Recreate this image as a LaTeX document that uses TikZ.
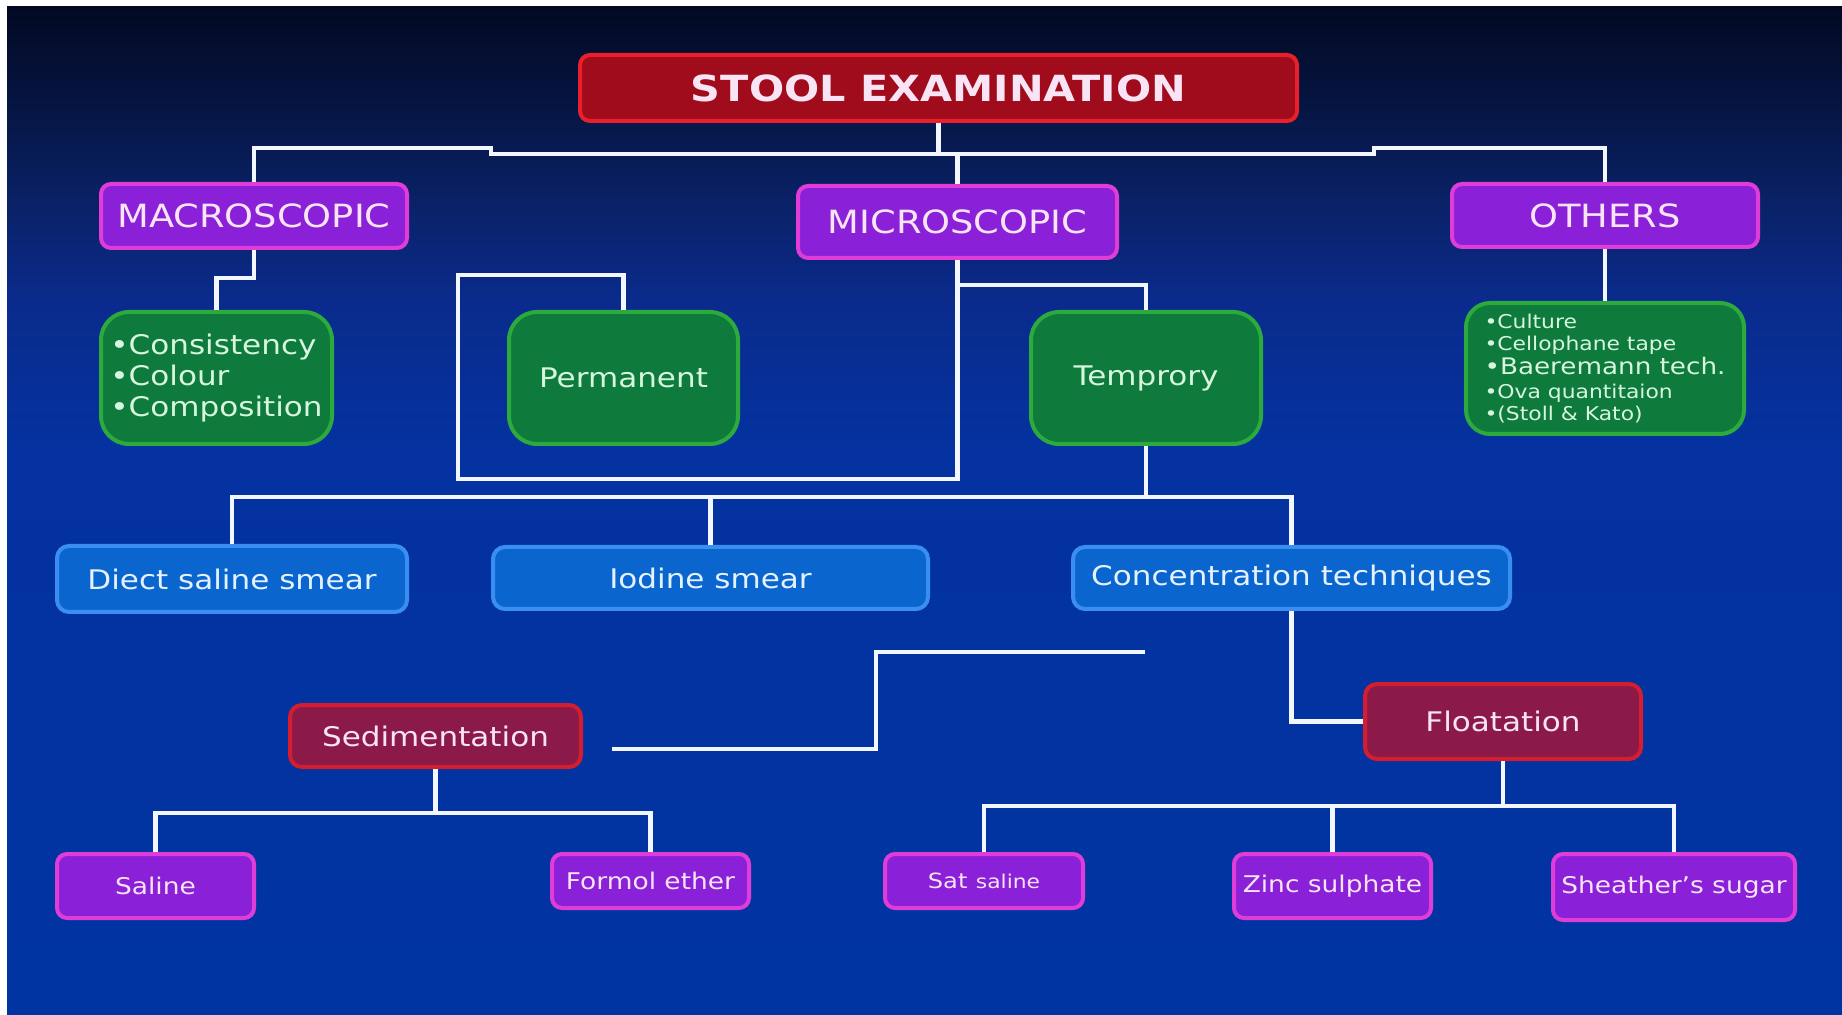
\documentclass[tikz,border=0pt]{standalone}
\usepackage{fontspec}
\setmainfont{DejaVu Sans}[FakeStretch=1.15]
\usepackage{xcolor}
\usetikzlibrary{calc}

\definecolor{bgtop}{HTML}{030923}
\definecolor{bgd}{HTML}{051440}
\definecolor{bga}{HTML}{0A2166}
\definecolor{bgb}{HTML}{0A2B8C}
\definecolor{bgc}{HTML}{0432A0}
\definecolor{bgbot}{HTML}{0034A2}
\definecolor{stoolfill}{HTML}{A00C1C}
\definecolor{stoolline}{HTML}{E8202C}
\definecolor{maroonfill}{HTML}{8C1A48}
\definecolor{maroonline}{HTML}{D41E30}
\definecolor{violetfill}{HTML}{8A20D8}
\definecolor{violetline}{HTML}{E03CD8}
\definecolor{greenfill}{HTML}{0E7A3C}
\definecolor{greenline}{HTML}{2CAA3C}
\definecolor{bluefill}{HTML}{0A66CE}
\definecolor{blueline}{HTML}{3A8EF2}
\definecolor{pinktext}{HTML}{F8E4F4}
\definecolor{minttext}{HTML}{D6F6DE}
\definecolor{skytext}{HTML}{E4F2FF}
\definecolor{linkwhite}{HTML}{F2F6FF}

\pgfdeclareverticalshading{slidebg}{100bp}{color(0bp)=(bgbot); color(25bp)=(bgbot); color(53bp)=(bgc); color(60.5bp)=(bgb); color(65.4bp)=(bga); color(70.4bp)=(bgd); color(75bp)=(bgtop); color(100bp)=(bgtop)}

\tikzset{
  box/.style={draw, line width=2pt, inner sep=0pt, align=center},
  headbox/.style={box, fill=stoolfill, draw=stoolline, rounded corners=5pt, text=pinktext,
    font=\bfseries\fontsize{18}{22}\selectfont},
  topbox/.style={box, fill=violetfill, draw=violetline, rounded corners=5pt, text=pinktext,
    font=\fontsize{16}{19}\selectfont},
  leafbox/.style={box, fill=violetfill, draw=violetline, rounded corners=5pt, text=pinktext,
    font=\fontsize{11.5}{14}\selectfont},
  greenbox/.style={box, fill=greenfill, draw=greenline, rounded corners=14pt, text=minttext,
    font=\fontsize{13.5}{15.6}\selectfont},
  bluebox/.style={box, fill=bluefill, draw=blueline, rounded corners=6pt, text=skytext,
    font=\fontsize{13.5}{16}\selectfont},
  methodbox/.style={box, fill=maroonfill, draw=maroonline, rounded corners=6pt, text=pinktext,
    font=\fontsize{13.5}{16}\selectfont},
  link/.style={draw=linkwhite, line width=2.4pt}
}

\begin{document}
\begin{tikzpicture}[x=0.5pt,y=-0.5pt]
  \useasboundingbox (0,0) rectangle (1842,1015);
  \fill[white] (0,0) rectangle (1842,1015);
  \shade[shading=slidebg] (7,7) rectangle (1842,1015);

  \node[headbox, minimum width=358.5pt, minimum height=33pt] (stool) at (938.5,88) {STOOL EXAMINATION};

  \node[topbox, minimum width=153pt, minimum height=32pt] (macro) at (254,216) {MACROSCOPIC};
  \node[topbox, minimum width=159.5pt, minimum height=36pt] (micro) at (957.5,222) {MICROSCOPIC};
  \node[topbox, minimum width=153pt, minimum height=31.5pt] (others) at (1605,215.5) {OTHERS};

  \node[greenbox, align=left, minimum width=115.5pt, minimum height=66pt] (consist) at (216.5,378)
    {•Consistency\\•Colour\\•Composition};
  \node[greenbox, minimum width=114.5pt, minimum height=66pt] (perm) at (623.5,378) {Permanent};
  \node[greenbox, minimum width=115pt, minimum height=66pt] (temp) at (1146,378) {Temprory};
  \node[greenbox, rounded corners=12pt, minimum width=139pt, minimum height=65.5pt, align=left,
    font=\fontsize{9.5}{11.2}\selectfont] (otherlist) at (1605,368.5)
    {•Culture\\
     •Cellophane tape\\[0.6pt]
     {\fontsize{11.4}{12}\selectfont •Baeremann tech.}\\[0.6pt]
     •Ova quantitaion\\
     •(Stoll \& Kato)};

  \node[bluebox, minimum width=175pt, minimum height=33pt] (diect) at (232,579) {Diect saline smear};
  \node[bluebox, minimum width=217.5pt, minimum height=31pt] (iodine) at (710.5,578) {Iodine smear};
  \node[bluebox, minimum width=218.5pt, minimum height=31pt] (conc) at (1291.5,578) {Concentration techniques};

  \node[methodbox, minimum width=145.5pt, minimum height=31pt] (sedim) at (435.5,736) {Sedimentation};
  \node[methodbox, minimum width=138pt, minimum height=37.5pt] (float) at (1503,721.5) {Floatation};

  \node[leafbox, minimum width=98.5pt, minimum height=32pt] (saline) at (155.5,886) {Saline};
  \node[leafbox, minimum width=98.5pt, minimum height=27pt] (formol) at (650.5,881) {Formol ether};
  \node[leafbox, minimum width=99pt, minimum height=27pt] (satsal) at (984,881)
    {{\fontsize{10.5}{13}\selectfont Sat} {\fontsize{9.5}{13}\selectfont saline}};
  \node[leafbox, minimum width=98.5pt, minimum height=32pt] (zinc) at (1332.5,886) {Zinc sulphate};
  \node[leafbox, minimum width=121pt, minimum height=33pt] (sheather) at (1674,887) {Sheather’s sugar};

  \draw[link] (stool.south) -- ++(0,31) coordinate (topbar);
  \draw[link] (macro.north) |- (491,148) -- (491,154) -- (1374,154) -- (1374,148) -| (others.north);
  \draw[link] (micro.north) -- (micro.north |- topbar);

  \draw[link] (macro.south) -- ++(0,28) -| (consist.north);
  \draw[link] (micro.south) -- (micro.south |- 0,479) -| (458,275) -| (perm.north);
  \draw[link] (micro.south |- 0,285) -| (temp.north);
  \draw[link] (others.south) -- (otherlist.north);

  \draw[link] (temp.south) -- ++(0,51) coordinate (midbar);
  \draw[link] (diect.north) |- (conc.north |- midbar) -- (conc.north);
  \draw[link] (iodine.north) -- (iodine.north |- midbar);

  \draw[link] (conc.south) |- (float.west);
  \coordinate (strayA) at (1145,652);
  \coordinate (strayB) at (612,749);
  \draw[link] (strayA) -| (876,749) -- (strayB);

  \draw[link] (sedim.south) -- ++(0,44) coordinate (sedbar);
  \draw[link] (saline.north) |- (formol.north |- sedbar) -- (formol.north);

  \draw[link] (float.south) -- ++(0,45) coordinate (flbar);
  \draw[link] (satsal.north) |- (sheather.north |- flbar) -- (sheather.north);
  \draw[link] (zinc.north) -- (zinc.north |- flbar);
\end{tikzpicture}
\end{document}
